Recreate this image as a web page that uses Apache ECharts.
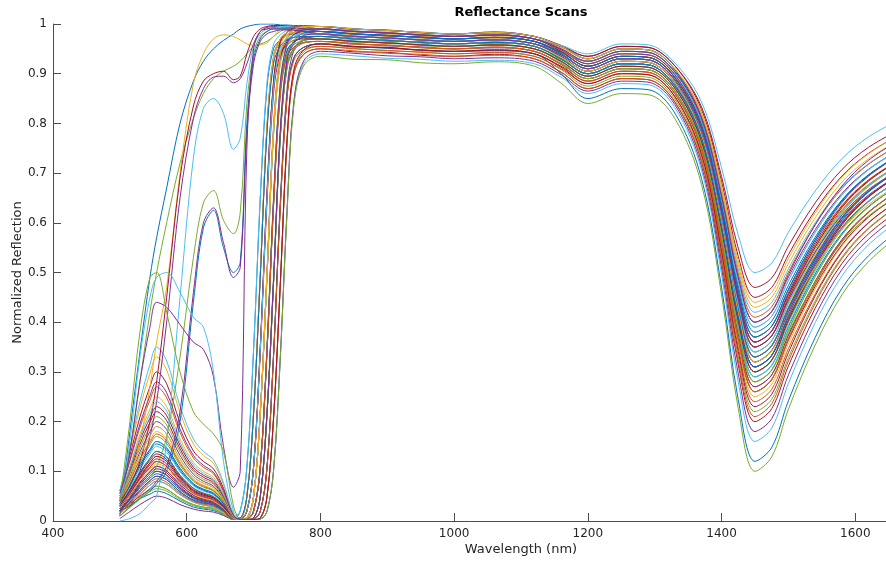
<!DOCTYPE html>
<html>
<head>
<meta charset="utf-8">
<script src="https://cdn.jsdelivr.net/npm/echarts@6/dist/echarts.min.js"></script>
<style>
html, body { margin: 0; padding: 0; background: #ffffff; }
#chart { width: 886px; height: 562px; }
</style>
</head>
<body>
<div id="chart"></div>
<script>
// Sample wavelengths (nm) shared by every scan
const wavelength = [500, 515, 530, 545, 555, 570, 590, 610, 625, 640, 655, 670, 680,
  690, 700, 710, 720, 730, 740, 750, 760, 775,
  800, 850, 900, 950, 1000, 1060, 1120, 1160, 1200, 1250, 1290, 1330, 1370, 1400,
  1425, 1450, 1475, 1500, 1540, 1580, 1620, 1670];

// Normalized reflectance of each leaf scan at the wavelengths above
const scan01 = [.02,.032,.045,.054,.06,.055,.04,.028,.024,.021,.013,.003, .003,.004,.02,.107,.341,.644,.868,.946,.963,.973, .975,.97,.967,.963,.96,.963,.955,.93,.90,.92,.918,.876,.768,.588,.402,.30,.323,.401,.507,.589,.643,.69];
const scan02 = [.01,.031,.053,.072,.08,.074,.053,.038,.032,.028,.018,.003, .004,.02,.109,.347,.653,.881,.96,.978,.987,.99, .99,.986,.981,.979,.975,.979,.97,.948,.92,.94,.938,.898,.797,.629,.455,.36,.382,.454,.551,.626,.677,.72];
const scan03 = [.02,.044,.07,.09,.10,.092,.066,.047,.04,.035,.022,.004, .003,.003,.004,.019,.106,.336,.634,.854,.931,.953, .96,.953,.953,.946,.945,.949,.94,.913,.88,.90,.898,.855,.741,.552,.357,.25,.275,.357,.467,.553,.611,.66];
const scan04 = [.03,.057,.086,.108,.12,.11,.079,.056,.048,.042,.026,.005, .006,.049,.217,.493,.788,.931,.965,.978,.983,.985, .985,.981,.976,.974,.97,.972,.965,.94,.91,.93,.928,.887,.782,.608,.429,.33,.352,.426,.526,.604,.656,.70];
const scan05 = [.02,.056,.094,.126,.14,.129,.092,.066,.056,.049,.031,.006, .003,.003,.006,.049,.213,.485,.776,.917,.951,.967, .97,.964,.963,.957,.955,.958,.95,.928,.90,.92,.918,.875,.764,.578,.385,.28,.304,.384,.492,.576,.632,.68];
const scan06 = [.04,.076,.114,.144,.16,.147,.106,.075,.064,.056,.035,.006, .003,.006,.05,.219,.498,.796,.94,.975,.988,.995, .995,.991,.986,.984,.98,.984,.975,.955,.93,.95,.948,.91,.818,.665,.507,.42,.44,.508,.60,.672,.719,.76];
const scan07 = [.015,.038,.061,.081,.09,.083,.059,.042,.036,.032,.02,.004, .003,.003,.003,.006,.048,.209,.475,.76,.898,.939, .95,.944,.943,.937,.935,.939,.93,.903,.87,.89,.888,.843,.723,.522,.314,.20,.226,.312,.428,.518,.578,.63];
const scan08 = [.025,.051,.078,.099,.11,.101,.073,.052,.044,.039,.024,.004, .02,.108,.343,.647,.872,.951,.968,.977,.98,.98, .98,.976,.971,.969,.965,.968,.96,.944,.925,.945,.943,.903,.805,.642,.473,.38,.402,.474,.571,.646,.697,.74];
const scan09 = [.03,.06,.092,.117,.13,.12,.086,.061,.052,.046,.029,.005, .003,.004,.019,.106,.338,.637,.859,.936,.953,.963, .965,.959,.958,.952,.95,.954,.945,.92,.89,.91,.908,.865,.754,.568,.375,.27,.294,.374,.482,.566,.622,.67];
const scan10 = [.035,.079,.125,.162,.18,.166,.119,.085,.072,.063,.04,.007, .004,.02,.109,.347,.653,.881,.96,.978,.987,.99, .99,.984,.983,.977,.975,.977,.97,.945,.915,.935,.933,.892,.789,.616,.438,.34,.362,.436,.536,.614,.666,.71];
const scan11 = [.04,.088,.139,.18,.20,.184,.132,.094,.08,.07,.044,.008, .003,.003,.004,.02,.107,.341,.644,.868,.946,.968, .975,.971,.966,.964,.96,.962,.955,.93,.90,.92,.918,.876,.77,.593,.41,.31,.333,.409,.511,.591,.644,.69];
const scan12 = [.01,.028,.047,.063,.07,.064,.046,.033,.028,.025,.015,.003, .003,.006,.049,.217,.493,.788,.931,.965,.978,.985, .985,.979,.978,.972,.97,.974,.965,.94,.91,.93,.928,.888,.787,.619,.445,.35,.372,.446,.546,.624,.676,.72];
const scan13 = [.03,.066,.104,.135,.15,.138,.099,.071,.06,.053,.033,.006, .003,.003,.003,.004,.019,.103,.329,.62,.837,.921, .94,.936,.931,.929,.925,.927,.92,.893,.86,.88,.878,.832,.706,.496,.279,.16,.187,.277,.399,.493,.556,.61];
const scan14 = [.045,.098,.154,.198,.22,.202,.145,.103,.088,.077,.048,.009, .006,.05,.218,.495,.792,.936,.97,.983,.988,.99, .99,.985,.983,.977,.975,.979,.97,.954,.935,.955,.953,.916,.828,.683,.532,.45,.47,.536,.625,.694,.74,.78];
const scan15 = [.02,.044,.07,.09,.10,.092,.066,.047,.04,.035,.022,.004, .003,.003,.006,.049,.213,.485,.776,.917,.951,.967, .97,.966,.961,.959,.955,.957,.95,.925,.895,.915,.913,.871,.762,.58,.393,.29,.313,.391,.497,.579,.633,.68];
const scan16 = [.025,.054,.084,.108,.12,.11,.079,.056,.048,.042,.026,.005, .003,.006,.049,.216,.49,.784,.926,.96,.973,.98, .98,.974,.973,.967,.965,.969,.96,.935,.905,.925,.923,.882,.776,.601,.419,.32,.343,.419,.521,.601,.654,.70];
const scan17 = [.05,.11,.174,.225,.25,.23,.165,.118,.10,.088,.055,.01, .003,.004,.02,.108,.345,.65,.877,.955,.973,.983, .985,.981,.976,.974,.97,.972,.965,.945,.92,.94,.938,.898,.799,.634,.464,.37,.392,.464,.561,.636,.687,.73];
const scan18 = [.005,.019,.033,.045,.05,.046,.033,.024,.02,.018,.011,.003, .004,.02,.109,.348,.657,.886,.965,.983,.992,.995, .995,.989,.988,.982,.98,.984,.975,.955,.93,.95,.948,.909,.813,.654,.49,.40,.421,.491,.586,.659,.708,.75];
const scan19 = [.03,.072,.117,.153,.17,.156,.112,.08,.068,.06,.037,.007, .003,.003,.003,.006,.048,.21,.478,.764,.902,.944, .955,.951,.946,.944,.94,.942,.935,.908,.875,.895,.893,.849,.731,.534,.331,.22,.245,.329,.443,.531,.59,.64];
const scan20 = [.04,.085,.132,.171,.19,.175,.125,.089,.076,.067,.042,.008, .02,.109,.347,.653,.881,.96,.978,.987,.99,.99, .99,.986,.981,.979,.975,.978,.97,.948,.92,.94,.938,.899,.803,.644,.48,.39,.412,.484,.581,.656,.707,.75];
const scan21 = [.02,.053,.088,.117,.13,.12,.086,.061,.052,.046,.029,.005, .003,.003,.004,.019,.106,.336,.634,.854,.931,.953, .96,.954,.953,.947,.945,.947,.94,.915,.885,.905,.903,.86,.748,.56,.366,.26,.284,.364,.472,.556,.612,.66];
const scan22 = [.02,.041,.063,.081,.09,.083,.059,.042,.036,.032,.02,.004, .003,.004,.02,.107,.341,.644,.868,.946,.963,.973, .975,.969,.968,.962,.96,.964,.955,.93,.90,.92,.918,.877,.775,.604,.427,.33,.353,.429,.531,.611,.664,.71];
const scan23 = [.055,.12,.188,.243,.27,.248,.178,.127,.108,.095,.059,.011, .003,.006,.05,.218,.495,.792,.936,.97,.983,.99, .99,.986,.981,.979,.975,.977,.97,.95,.925,.945,.943,.904,.812,.657,.498,.41,.431,.501,.596,.669,.718,.76];
const scan24 = [.03,.063,.098,.126,.14,.129,.092,.066,.056,.049,.031,.006, .006,.049,.217,.493,.788,.931,.965,.978,.983,.985, .985,.979,.978,.972,.97,.974,.965,.94,.91,.93,.928,.888,.787,.619,.445,.35,.373,.449,.551,.631,.684,.73];
const scan25 = [.02,.047,.076,.099,.11,.101,.073,.052,.044,.039,.024,.004, .003,.003,.003,.004,.019,.104,.331,.624,.841,.926, .945,.941,.936,.934,.93,.932,.925,.898,.865,.885,.883,.838,.714,.509,.296,.18,.206,.294,.413,.506,.567,.62];
const scan26 = [.045,.095,.147,.189,.21,.193,.139,.099,.084,.074,.046,.008, .003,.003,.006,.049,.213,.485,.776,.917,.951,.967, .97,.964,.963,.957,.955,.959,.95,.925,.895,.915,.913,.871,.764,.586,.401,.30,.323,.401,.507,.589,.643,.69];
const scan27 = [.015,.035,.055,.072,.08,.074,.053,.038,.032,.028,.018,.003, .003,.006,.049,.216,.49,.784,.926,.96,.973,.98, .98,.976,.971,.969,.965,.967,.96,.937,.91,.93,.928,.887,.785,.614,.437,.34,.363,.439,.541,.621,.674,.72];
const scan28 = [.06,.132,.209,.27,.30,.276,.198,.141,.12,.105,.066,.012, .004,.02,.109,.348,.657,.886,.965,.983,.992,.995, .995,.99,.987,.983,.98,.982,.975,.957,.935,.955,.953,.916,.833,.693,.549,.47,.489,.553,.64,.707,.752,.79];
const scan29 = [.035,.073,.113,.144,.16,.147,.106,.075,.064,.056,.035,.006, .003,.004,.02,.107,.341,.644,.868,.946,.963,.973, .975,.971,.966,.964,.96,.962,.955,.93,.90,.92,.918,.876,.77,.593,.41,.31,.333,.411,.517,.599,.653,.70];
const scan30 = [.025,.054,.084,.108,.12,.11,.079,.056,.048,.042,.026,.005, .003,.003,.003,.006,.048,.209,.475,.76,.898,.939, .95,.946,.941,.939,.935,.937,.93,.903,.87,.89,.888,.844,.725,.527,.322,.21,.236,.322,.438,.528,.588,.64];
const scan31 = [.06,.141,.227,.297,.33,.304,.218,.155,.132,.116,.073,.013, .006,.05,.218,.495,.792,.936,.97,.983,.988,.99, .99,.984,.983,.977,.975,.979,.97,.952,.93,.95,.948,.91,.82,.67,.515,.43,.45,.518,.61,.682,.729,.77];
const scan32 = [.02,.044,.07,.09,.10,.092,.066,.047,.04,.035,.022,.004, .003,.003,.006,.048,.212,.483,.772,.912,.946,.962, .965,.961,.956,.954,.95,.952,.945,.92,.89,.91,.908,.865,.754,.568,.375,.27,.294,.374,.482,.566,.622,.67];
const scan33 = [.01,.028,.047,.063,.07,.064,.046,.033,.028,.025,.015,.003, .003,.003,.003,.004,.019,.103,.327,.617,.832,.916, .935,.929,.928,.922,.92,.924,.915,.881,.84,.86,.858,.81,.677,.455,.226,.10,.129,.225,.354,.455,.522,.58];
const scan34 = [.06,.147,.24,.315,.35,.322,.231,.165,.14,.123,.077,.014, .003,.004,.02,.109,.347,.653,.881,.96,.978,.988, .99,.986,.981,.979,.975,.978,.97,.957,.94,.96,.958,.922,.843,.711,.575,.50,.519,.581,.664,.729,.773,.81];
const scan35 = [.05,.104,.162,.207,.23,.212,.152,.108,.092,.081,.051,.009, .003,.006,.049,.217,.493,.788,.931,.965,.978,.985, .985,.98,.976,.974,.97,.973,.965,.943,.915,.935,.933,.893,.793,.626,.454,.36,.382,.456,.556,.634,.686,.73];
const scan36 = [.03,.063,.098,.126,.14,.129,.092,.066,.056,.049,.031,.006, .003,.003,.004,.019,.106,.336,.634,.854,.931,.953, .96,.955,.951,.948,.945,.946,.94,.90,.85,.87,.868,.821,.689,.47,.244,.12,.148,.242,.369,.468,.534,.59];
// Scans whose visible band is already bright (yellowed or senescent leaves)
const scan37 = [.01,.18,.34,.49,.57,.67,.8,.885,.925,.95,.967,.98,.99, .995,.998,1.0,1.0,1.0,.998,.998,.997,.997, .995,.99,.987,.983,.98,.983,.975,.955,.93,.95,.948,.908,.807,.639,.465,.37,.392,.466,.566,.644,.696,.74];
const scan38 = [.03,.14,.28,.42,.5,.6,.72,.81,.86,.89,.905,.915,.925, .94,.955,.96,.965,.975,.985,.99,.99,.985, .98,.975,.972,.968,.965,.968,.96,.935,.905,.925,.923,.881,.772,.59,.403,.30,.324,.404,.512,.596,.652,.70];
const scan39 = [.03,.08,.16,.27,.36,.47,.7,.88,.94,.97,.978,.975,.968, .96,.957,.958,.962,.975,.99,.995,.995,.993, .99,.985,.982,.978,.975,.978,.97,.948,.92,.94,.938,.896,.79,.613,.43,.33,.353,.431,.537,.619,.673,.72];
const scan40 = [.04,.07,.12,.2,.28,.45,.69,.835,.885,.9,.905,.888,.895, .94,.975,.99,.995,.997,.997,.996,.995,.994, .99,.985,.982,.978,.975,.978,.97,.945,.915,.935,.933,.892,.791,.621,.446,.35,.373,.449,.551,.631,.684,.73];
const scan41 = [.035,.06,.1,.17,.24,.4,.65,.81,.87,.893,.895,.882,.89, .92,.96,.985,.993,.995,.995,.994,.993,.99, .985,.98,.977,.973,.97,.973,.965,.94,.91,.93,.928,.886,.78,.603,.42,.32,.343,.421,.527,.609,.663,.71];
const scan42 = [0,.005,.015,.035,.05,.16,.45,.73,.83,.85,.82,.748,.77, .88,.955,.98,.99,.993,.995,.995,.994,.993, .99,.985,.982,.978,.975,.978,.97,.95,.925,.945,.943,.904,.807,.647,.481,.39,.412,.484,.581,.656,.707,.75];
const scan43 = [.03,.05,.07,.09,.11,.17,.33,.53,.64,.665,.605,.578,.62, .84,.94,.975,.985,.99,.99,.99,.988,.985, .98,.975,.972,.968,.965,.968,.96,.933,.90,.92,.918,.875,.764,.578,.385,.28,.304,.384,.492,.576,.632,.68];
const scan44 = [.02,.03,.045,.06,.075,.1,.2,.44,.59,.625,.55,.5,.52, .8,.93,.97,.985,.99,.99,.99,.988,.986, .985,.98,.977,.973,.97,.973,.965,.94,.91,.93,.928,.887,.782,.608,.429,.33,.353,.429,.531,.611,.664,.71];
const scan45 = [.025,.035,.05,.065,.08,.11,.22,.46,.6,.63,.56,.49,.51, .78,.92,.965,.98,.985,.988,.988,.987,.985, .98,.975,.972,.968,.965,.968,.96,.935,.905,.925,.923,.881,.774,.596,.411,.31,.333,.411,.517,.599,.653,.70];
const scan46 = [.04,.14,.28,.39,.44,.43,.395,.36,.345,.29,.15,.068,.1, .75,.95,.985,.99,.992,.992,.992,.991,.99, .99,.985,.982,.978,.975,.978,.97,.948,.92,.94,.938,.898,.797,.629,.455,.36,.383,.459,.561,.641,.694,.74];
const scan47 = [.03,.16,.33,.45,.49,.5,.46,.41,.39,.3,.12,.02,.006, .006,.049,.215,.488,.78,.921,.956,.968,.975, .975,.97,.967,.963,.96,.963,.955,.93,.90,.92,.918,.876,.766,.583,.394,.29,.314,.394,.502,.586,.642,.69];
const scan48 = [.04,.2,.38,.49,.5,.42,.3,.22,.195,.175,.14,.03,.005, .004,.019,.107,.34,.64,.863,.941,.958,.968, .97,.965,.962,.958,.955,.958,.95,.923,.89,.91,.908,.865,.751,.562,.367,.26,.285,.367,.477,.563,.621,.67];
// Further green-leaf scans
const scan49 = [.02,.046,.073,.095,.105,.097,.069,.049,.042,.037,.023,.004, .004,.019,.107,.34,.64,.863,.941,.958,.967,.97, .97,.965,.962,.958,.955,.958,.95,.925,.895,.915,.913,.871,.764,.586,.401,.30,.324,.404,.512,.596,.652,.70];
const scan50 = [.035,.071,.109,.14,.155,.143,.102,.073,.062,.054,.034,.006, .003,.003,.006,.049,.217,.493,.788,.931,.965,.982, .985,.98,.977,.973,.97,.973,.965,.943,.915,.935,.933,.893,.795,.632,.463,.37,.392,.466,.566,.644,.696,.74];
const scan51 = [.015,.036,.058,.077,.085,.078,.056,.04,.034,.03,.019,.003, .003,.003,.004,.019,.105,.334,.63,.85,.926,.948, .955,.95,.947,.943,.94,.943,.935,.91,.88,.90,.898,.854,.739,.547,.349,.24,.265,.347,.457,.543,.601,.65];
const scan52 = [.04,.085,.133,.171,.19,.175,.125,.089,.076,.067,.042,.008, .003,.006,.049,.215,.488,.78,.921,.956,.968,.975, .975,.97,.967,.963,.96,.963,.955,.933,.905,.925,.923,.882,.776,.601,.419,.32,.342,.414,.511,.586,.637,.68];
const scan53 = [.025,.055,.087,.113,.125,.115,.083,.059,.05,.044,.028,.005, .003,.004,.02,.109,.347,.653,.881,.96,.978,.988, .99,.985,.982,.978,.975,.978,.97,.95,.925,.945,.943,.904,.81,.652,.489,.40,.422,.496,.596,.674,.726,.77];
const scan54 = [.01,.027,.044,.059,.065,.06,.043,.031,.026,.023,.014,.003, .003,.003,.006,.048,.212,.483,.772,.912,.946,.962, .965,.96,.957,.953,.95,.953,.945,.92,.89,.91,.908,.866,.756,.573,.384,.28,.303,.379,.481,.561,.614,.66];
const scan55 = [.05,.107,.168,.216,.24,.221,.158,.113,.096,.084,.053,.01, .004,.02,.108,.343,.647,.872,.951,.968,.977,.98, .98,.975,.972,.968,.965,.968,.96,.938,.91,.93,.928,.887,.785,.614,.437,.34,.363,.439,.541,.621,.674,.72];
const scan56 = [.03,.062,.095,.122,.135,.124,.089,.063,.054,.047,.03,.005, .003,.003,.003,.006,.048,.211,.48,.768,.907,.948, .96,.955,.952,.948,.945,.948,.94,.913,.88,.90,.898,.854,.737,.542,.341,.23,.255,.339,.453,.541,.60,.65];
const scan57 = [.02,.043,.067,.086,.095,.087,.063,.045,.038,.033,.021,.004, .006,.049,.215,.488,.78,.921,.956,.968,.973,.975, .975,.97,.967,.963,.96,.963,.955,.93,.90,.92,.918,.876,.77,.593,.41,.31,.334,.414,.522,.606,.662,.71];
const scan58 = [.04,.081,.124,.158,.175,.161,.116,.082,.07,.061,.039,.007, .003,.004,.019,.106,.338,.637,.859,.936,.953,.963, .965,.96,.957,.953,.95,.953,.945,.918,.885,.905,.903,.86,.748,.56,.366,.26,.285,.367,.477,.563,.621,.67];
const scan59 = [.025,.052,.081,.104,.115,.106,.076,.054,.046,.04,.025,.005, .003,.006,.05,.219,.498,.796,.94,.975,.988,.995, .995,.99,.987,.983,.98,.983,.975,.955,.93,.95,.948,.91,.822,.675,.523,.44,.46,.528,.62,.692,.739,.78];
const scan60 = [.055,.123,.195,.252,.28,.258,.185,.132,.112,.098,.062,.011, .003,.003,.006,.049,.216,.49,.784,.926,.96,.977, .98,.975,.972,.968,.965,.968,.96,.938,.91,.93,.928,.888,.787,.619,.445,.35,.372,.444,.541,.616,.667,.71];

const scans = [scan01, scan02, scan03, scan04, scan05, scan06, scan07, scan08, scan09, scan10,
  scan11, scan12, scan13, scan14, scan15, scan16, scan17, scan18, scan19, scan20,
  scan21, scan22, scan23, scan24, scan25, scan26, scan27, scan28, scan29, scan30,
  scan31, scan32, scan33, scan34, scan35, scan36, scan37, scan38, scan39, scan40,
  scan41, scan42, scan43, scan44, scan45, scan46, scan47, scan48, scan49, scan50,
  scan51, scan52, scan53, scan54, scan55, scan56, scan57, scan58, scan59, scan60];

// Default MATLAB line colour order
const colorOrder = ['#0072BD', '#D95319', '#EDB120', '#7E2F8E', '#77AC30', '#4DBEEE', '#A2142F'];
// Colour slots for the senescent scans (scan37 to scan48)
const senescentSlots = [0, 4, 2, 6, 3, 5, 4, 0, 3, 3, 5, 4];

const axisColor = '#4d4d4d';
const textColor = '#262626';
const font = 'DejaVu Sans';

const series = scans.map((vals, i) => {
  if (vals.length !== wavelength.length) {
    throw new Error('scan ' + (i + 1) + ' has ' + vals.length + ' values');
  }
  const slot = (i >= 36 && i < 48) ? senescentSlots[i - 36] : i % 7;
  const color = colorOrder[slot];
  return {
    type: 'line',
    data: wavelength.map((w, k) => [w, vals[k]]),
    showSymbol: false,
    smooth: 0.35,
    silent: true,
    lineStyle: { width: 1, color: color },
    itemStyle: { color: color },
    emphasis: { disabled: true }
  };
});

const chart = echarts.init(document.getElementById('chart'), null, { renderer: 'canvas' });
chart.setOption({
  animation: false,
  backgroundColor: '#ffffff',
  title: {
    text: 'Reflectance Scans',
    left: 521,
    top: 6,
    textAlign: 'center',
    padding: 0,
    textStyle: { fontSize: 13, fontWeight: 'bold', color: '#000000', fontFamily: font }
  },
  grid: { left: 53, right: -103, top: 24, bottom: 41, containLabel: false, outerBoundsMode: 'none' },
  xAxis: {
    type: 'value',
    min: 400,
    max: 1800,
    interval: 200,
    name: 'Wavelength (nm)',
    nameLocation: 'middle',
    nameGap: 22,
    nameMoveOverlap: false,
    nameTextStyle: { fontSize: 13, color: textColor, fontFamily: font },
    axisLine: { show: true, onZero: false, lineStyle: { color: axisColor, width: 1 } },
    axisTick: { show: true, inside: true, length: 8, lineStyle: { color: axisColor, width: 1 } },
    axisLabel: { color: textColor, fontSize: 12, fontFamily: font, margin: 7, formatter: v => String(v) },
    splitLine: { show: false }
  },
  yAxis: {
    type: 'value',
    min: 0,
    max: 1,
    interval: 0.1,
    name: 'Normalized Reflection',
    nameLocation: 'middle',
    nameGap: 29,
    nameRotate: 90,
    nameMoveOverlap: false,
    nameTextStyle: { fontSize: 13, color: textColor, fontFamily: font },
    axisLine: { show: true, onZero: false, lineStyle: { color: axisColor, width: 1 } },
    axisTick: { show: true, inside: true, length: 8, lineStyle: { color: axisColor, width: 1 } },
    axisLabel: { color: textColor, fontSize: 12, fontFamily: font, margin: 6 },
    splitLine: { show: false }
  },
  tooltip: { show: false },
  series: series
});
</script>
</body>
</html>
